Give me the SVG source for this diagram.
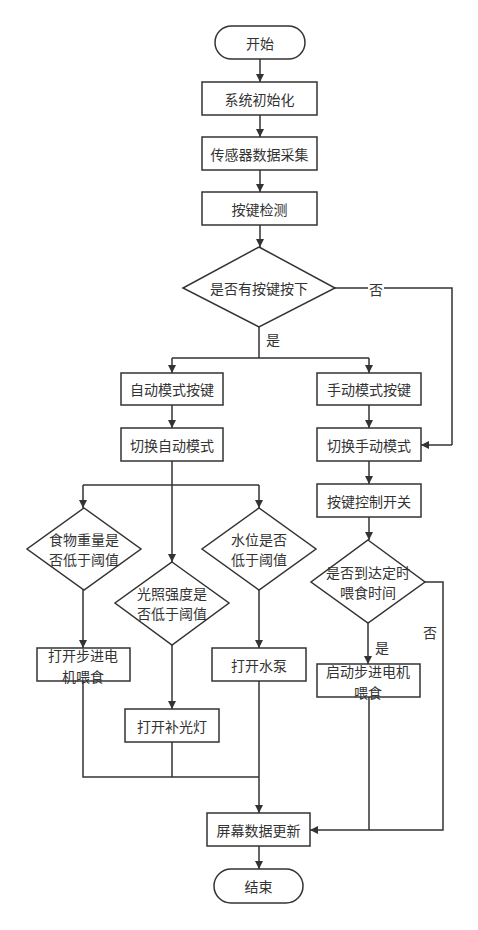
<svg xmlns="http://www.w3.org/2000/svg" width="478" height="930" viewBox="0 0 478 930">
<defs>
<marker id="ah" viewBox="0 0 10 10" refX="10" refY="5" markerWidth="8" markerHeight="8" markerUnits="userSpaceOnUse" orient="auto"><path d="M0,0 L10,5 L0,10 Z" fill="#333"/></marker>
<style>
.n rect,.n polygon{fill:#fff;stroke:#333;stroke-width:1.5}
.t{font-family:"Noto Sans CJK SC","Noto Sans",sans-serif;font-size:14px;fill:#333;text-anchor:middle;dominant-baseline:central}
.c path{fill:none;stroke:#333;stroke-width:1.5}
.a{marker-end:url(#ah)}
</style>
</defs>
<rect width="478" height="930" fill="#fff"/>
<g class="c">
<path class="a" d="M260,59 V82"/>
<path class="a" d="M260,115 V137"/>
<path class="a" d="M260,170 V192"/>
<path class="a" d="M260,225 V247"/>
<path d="M259,327 V358 M172,358 H369"/>
<path class="a" d="M172,358 V373"/>
<path class="a" d="M369,358 V373"/>
<path d="M335,288 H452 V445"/>
<path class="a" d="M452,445 H421"/>
<path class="a" d="M172,405 V428"/>
<path class="a" d="M369,405 V428"/>
<path class="a" d="M369,461 V484"/>
<path class="a" d="M369,517 V540"/>
<path class="a" d="M172,461 V562"/>
<path d="M83,485 H259"/>
<path class="a" d="M83,485 V508"/>
<path class="a" d="M259,485 V508"/>
<path class="a" d="M83,590 V648"/>
<path class="a" d="M172,645 V709"/>
<path class="a" d="M259,590 V648"/>
<path class="a" d="M368,623 V664"/>
<path d="M83,681 V777 H259 M172,742 V777"/>
<path class="a" d="M259,681 V813"/>
<path d="M425,582 H443 V830 H370 M369,697 V830"/>
<path class="a" d="M370,830 H310"/>
<path class="a" d="M259,846 V869"/>
</g>
<g class="t">
<rect x="368" y="280" width="16" height="16" fill="#fff"/>
<text x="376" y="289">否</text>
<text x="273" y="339">是</text>
<text x="382" y="647">是</text>
<text x="430" y="632">否</text>
</g>
<g id="start" class="n"><rect x="215" y="26" width="90" height="33" rx="16.5"/><text class="t" x="260" y="43">开始</text></g>
<g id="init" class="n"><rect x="202" y="82" width="115" height="33"/><text class="t" x="259.5" y="98.5">系统初始化</text></g>
<g id="sensor" class="n"><rect x="202" y="137" width="115" height="33"/><text class="t" x="259.5" y="153.5">传感器数据采集</text></g>
<g id="keydet" class="n"><rect x="202" y="192" width="115" height="33"/><text class="t" x="259.5" y="208.5">按键检测</text></g>
<g id="d1" class="n"><polygon points="259,247 335,288 259,327 183,288"/><text class="t" x="259" y="288">是否有按键按下</text></g>
<g id="autokey" class="n"><rect x="121" y="373" width="102" height="32"/><text class="t" x="172" y="389">自动模式按键</text></g>
<g id="mankey" class="n"><rect x="317" y="373" width="104" height="32"/><text class="t" x="369" y="389">手动模式按键</text></g>
<g id="automode" class="n"><rect x="121" y="428" width="102" height="33"/><text class="t" x="172" y="444.5">切换自动模式</text></g>
<g id="manmode" class="n"><rect x="317" y="428" width="104" height="33"/><text class="t" x="369" y="444.5">切换手动模式</text></g>
<g id="keyctl" class="n"><rect x="317" y="484" width="104" height="33"/><text class="t" x="369" y="500.5">按键控制开关</text></g>
<g id="dfood" class="n"><polygon points="84,508 141,549 84,590 27,549"/><text class="t" x="84" y="539">食物重量是</text><text class="t" x="84" y="559">否低于阈值</text></g>
<g id="dlight" class="n"><polygon points="172,562 229,603 172,645 115,603"/><text class="t" x="172" y="593">光照强度是</text><text class="t" x="172" y="613">否低于阈值</text></g>
<g id="dwater" class="n"><polygon points="259,508 316,549 259,590 202,549"/><text class="t" x="259" y="539">水位是否</text><text class="t" x="259" y="559">低于阈值</text></g>
<g id="dtime" class="n"><polygon points="368,540 425,582 368,623 311,582"/><text class="t" x="368" y="572">是否到达定时</text><text class="t" x="368" y="592">喂食时间</text></g>
<g id="motor1" class="n"><rect x="37" y="648" width="93" height="33"/><text class="t" x="83" y="655">打开步进电</text><text class="t" x="83" y="676">机喂食</text></g>
<g id="pump" class="n"><rect x="212" y="648" width="94" height="33"/><text class="t" x="259" y="664.5">打开水泵</text></g>
<g id="lamp" class="n"><rect x="125" y="709" width="94" height="33"/><text class="t" x="172" y="725.5">打开补光灯</text></g>
<g id="motor2" class="n"><rect x="317" y="664" width="103" height="33"/><text class="t" x="368" y="671">启动步进电机</text><text class="t" x="368" y="692">喂食</text></g>
<g id="screen" class="n"><rect x="207" y="813" width="103" height="33"/><text class="t" x="258.5" y="829.5">屏幕数据更新</text></g>
<g id="end" class="n"><rect x="214" y="869" width="89" height="34" rx="17"/><text class="t" x="258.5" y="886">结束</text></g>
</svg>
